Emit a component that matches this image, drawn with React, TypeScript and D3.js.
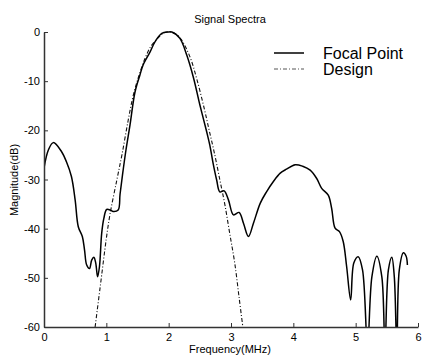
import React, { useEffect, useRef } from 'react';
import * as d3 from 'd3';

// [frequency MHz, magnitude dB]
const focalPoint: [number, number][] = [
  [0, -27.7], [0.07, -24], [0.15, -22.5], [0.28, -24.3], [0.36, -26.4], [0.44, -29.4],
  [0.5, -34.2], [0.55, -39.6], [0.615, -41.6], [0.65, -44.3], [0.685, -47.4], [0.73, -48.1],
  [0.765, -46.4], [0.8, -45.8], [0.83, -47], [0.86, -49.8], [0.89, -47.7], [0.925, -41],
  [0.96, -37.9], [1.005, -36.1], [1.06, -36.2], [1.11, -36.5], [1.19, -36.2], [1.22, -33],
  [1.26, -29], [1.315, -24], [1.38, -18.9], [1.46, -12.2], [1.54, -8.7], [1.59, -6.7],
  [1.7, -4.1], [1.78, -2.0], [1.89, -0.3], [1.99, 0], [2.05, 0], [2.18, -1.3], [2.29, -4.7],
  [2.4, -9.4], [2.5, -14.8], [2.61, -20.3], [2.66, -23], [2.71, -26.5], [2.77, -30.1],
  [2.82, -32.5], [2.89, -32.3], [2.96, -34.2], [3.04, -37.2], [3.13, -36.7], [3.2, -38.9],
  [3.28, -41.6], [3.36, -38.9], [3.47, -34.8], [3.57, -32.5], [3.68, -30.4], [3.79, -28.7],
  [3.89, -27.9], [4.03, -27.0], [4.15, -27.3], [4.27, -28.1], [4.375, -29.8], [4.455, -31.8],
  [4.56, -33.2], [4.615, -35.9], [4.67, -39.9], [4.74, -40.6], [4.8, -42.6], [4.855, -47.7],
  [4.92, -54.5], [4.97, -47.0], [5.04, -45.7], [5.11, -48.4], [5.19, -64], [5.26, -49.8],
  [5.34, -45.6], [5.42, -49.8], [5.47, -64], [5.525, -48.4], [5.58, -45.8], [5.62, -49.8],
  [5.66, -64], [5.7, -48.4], [5.765, -44.9], [5.81, -45.6], [5.83, -47.4],
];

const design: [number, number][] = [
  [0.82, -60], [0.9, -52], [1.0, -42], [1.06, -37], [1.17, -30], [1.25, -25], [1.35, -18],
  [1.43, -13], [1.52, -9], [1.62, -5.4], [1.72, -2.8], [1.83, -1.2], [1.92, -0.2], [2.0, 0],
  [2.1, -0.3], [2.2, -1.5], [2.34, -5], [2.45, -9.5], [2.56, -15], [2.65, -20], [2.74, -25],
  [2.82, -30], [2.9, -35], [2.98, -41], [3.06, -47], [3.13, -54], [3.19, -60],
];

const xTicks = [0, 1, 2, 3, 4, 5, 6];
const yTicks = [0, -10, -20, -30, -40, -50, -60];
const seriesNames = ['Focal Point', 'Design'];

const FONT = "'Liberation Sans', Arial, Helvetica, sans-serif";

const App = () => {
  const svgRef = useRef<SVGSVGElement>(null);

  useEffect(() => {
    const width = 422;
    const height = 362;
    const margin = { top: 32, right: 4, bottom: 35, left: 44 };
    const innerWidth = 418 - margin.left;
    const innerHeight = 327 - margin.top;

    d3.select(svgRef.current).selectAll('*').remove();
    const svg = d3.select(svgRef.current)
      .attr('width', width)
      .attr('height', height);

    svg.append('rect').attr('width', width).attr('height', height).attr('fill', 'white');

    const x = d3.scaleLinear().domain([0, 6]).range([0, innerWidth]);
    const y = d3.scaleLinear().domain([-60, 0]).range([innerHeight, 0]);

    const g = svg.append('g').attr('transform', `translate(${margin.left},${margin.top})`);

    g.append('clipPath').attr('id', 'plotClip')
      .append('rect').attr('x', 0).attr('y', -2).attr('width', innerWidth).attr('height', innerHeight + 2);

    // title
    svg.append('text')
      .attr('x', 230).attr('y', 23)
      .attr('text-anchor', 'middle')
      .style('font-family', FONT).style('font-size', '11px')
      .text('Signal Spectra');

    const line = d3.line<[number, number]>()
      .x(d => x(d[0]))
      .y(d => y(d[1]))
      .curve(d3.curveCatmullRom.alpha(0.5));

    g.append('path')
      .datum(design)
      .attr('clip-path', 'url(#plotClip)')
      .attr('d', line)
      .attr('fill', 'none')
      .attr('stroke', '#111')
      .attr('stroke-width', 1.1)
      .attr('stroke-dasharray', '4,2,1,2');

    g.append('path')
      .datum(focalPoint)
      .attr('clip-path', 'url(#plotClip)')
      .attr('d', line)
      .attr('fill', 'none')
      .attr('stroke', '#000')
      .attr('stroke-width', 1.5);

    // x axis, inward ticks
    const xAxis = g.append('g')
      .attr('transform', `translate(0,${innerHeight})`)
      .call(d3.axisBottom(x).tickValues(xTicks).tickSizeInner(-4).tickSizeOuter(0).tickPadding(6)
        .tickFormat(d => String(d)));
    xAxis.select('.domain').attr('stroke', '#333').attr('stroke-width', 1.5);
    xAxis.selectAll('line').attr('stroke', '#333');
    xAxis.selectAll('text').style('font-family', FONT).style('font-size', '11px').attr('fill', '#000');

    // y axis
    const yAxis = g.append('g')
      .call(d3.axisLeft(y).tickValues(yTicks).tickSizeInner(-4).tickSizeOuter(0).tickPadding(4)
        .tickFormat(d => String(d)));
    yAxis.select('.domain').attr('stroke', '#333').attr('stroke-width', 1.5);
    yAxis.selectAll('line').attr('stroke', '#333');
    yAxis.selectAll('text').style('font-family', FONT).style('font-size', '11px').attr('fill', '#000');

    // axis labels
    svg.append('text')
      .attr('x', 230).attr('y', 353)
      .attr('text-anchor', 'middle')
      .style('font-family', FONT).style('font-size', '11px')
      .text('Frequency(MHz)');

    svg.append('text')
      .attr('transform', 'rotate(-90)')
      .attr('x', -180).attr('y', 18)
      .attr('text-anchor', 'middle')
      .style('font-family', FONT).style('font-size', '11px')
      .text('Magnitude(dB)');

    // legend
    const legend = svg.append('g')
      .selectAll('g')
      .data(seriesNames)
      .enter()
      .append('g')
      .attr('transform', (d, i) => `translate(274,${53 + i * 16})`);

    legend.append('line')
      .attr('x1', 0).attr('x2', 30)
      .attr('stroke', (d, i) => (i === 0 ? '#000' : '#555'))
      .attr('stroke-width', (d, i) => (i === 0 ? 1.5 : 1))
      .attr('stroke-dasharray', (d, i) => (i === 0 ? null : '4,2,1,2'));

    legend.append('text')
      .attr('x', 49).attr('y', 6)
      .style('font-family', FONT).style('font-size', '16px')
      .text(d => d);
  }, []);

  return (
    <div style={{ position: 'absolute', left: 0, top: 0 }}>
      <svg ref={svgRef}></svg>
    </div>
  );
};

export default App;
